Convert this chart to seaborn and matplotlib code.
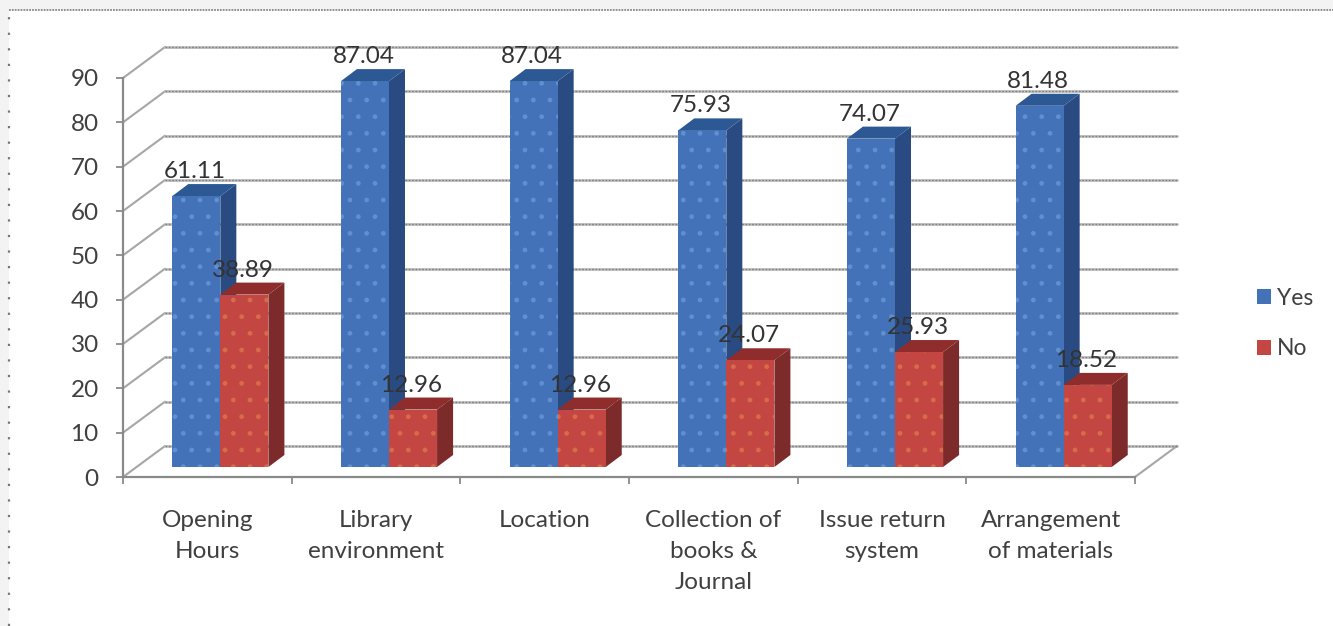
import matplotlib
matplotlib.use("Agg")
import matplotlib.pyplot as plt
from matplotlib.patches import Polygon, Rectangle
import pandas as pd
import seaborn as sns

categories = ["Opening\nHours", "Library\nenvironment", "Location",
              "Collection of\nbooks &\nJournal", "Issue return\nsystem",
              "Arrangement\nof materials"]
yes_values = [61.11, 87.04, 87.04, 75.93, 74.07, 81.48]
no_values = [38.89, 12.96, 12.96, 24.07, 25.93, 18.52]
series_names = ["Yes", "No"]
y_ticks = list(range(0, 100, 10))

W, H = 1333, 626
TEXT = "#404040"
FONT_SIZE = 17.5
FRONT = {"Yes": "#4472B8", "No": "#C44642"}
SIDE = {"Yes": "#2A4B82", "No": "#7D2A2A"}
TOP = {"Yes": "#2C5894", "No": "#8F2C2C"}
DOTS = {"Yes": "#628FCE", "No": "#D66C4C"}

sns.set_theme(style="white")
plt.rcParams["font.family"] = ["Lato", "DejaVu Sans"]

fig = plt.figure(figsize=(W / 100, H / 100), dpi=100, facecolor="#F3F3F3")
fig.add_artist(Rectangle((9 / W, 0), 1, 1 - 10 / H, transform=fig.transFigure,
                         facecolor="white", edgecolor="none", zorder=-5))
fig.add_artist(plt.Line2D([9 / W, 9 / W], [0, 1 - 10 / H], color="#777777", lw=1.6,
                          linestyle=(0, (1, 6))))
fig.add_artist(plt.Line2D([9 / W, 1], [1 - 10 / H, 1 - 10 / H], color="#888888", lw=1.3,
                          linestyle=(0, (1, 0.6))))

# Front plane of the plot box, placed in figure pixels
left, right, top, bottom = 123, 1135, 78, 477
ax = fig.add_axes([left / W, 1 - bottom / H, (right - left) / W, (bottom - top) / H])
ax.patch.set_alpha(0)

data = pd.DataFrame({
    "category": categories * 2,
    "series": ["Yes"] * 6 + ["No"] * 6,
    "value": yes_values + no_values,
})
sns.barplot(data=data, x="category", y="value", hue="series", hue_order=series_names,
            palette=FRONT, width=0.57, gap=0, saturation=1, ax=ax, legend=False)

ax.set_xlim(-0.5, 5.5)
ax.set_ylim(0, 90)
ax.set_xlabel("")
ax.set_ylabel("")

# Pixel lengths expressed in data units
px_x = (right - left) / 6
px_y = (bottom - top) / 90
to_x = lambda px: px / px_x
to_y = lambda px: px / px_y

# Oblique projection: walls sit behind the front plane, bars partway in
wall_dx, wall_dy = to_x(42), to_y(31)
bar_dx, bar_dy = to_x(13), to_y(10)
depth_dx, depth_dy = to_x(16), to_y(12)


def grid_path(y):
    xs = [-0.5, -0.5 + wall_dx, 5.5 + wall_dx]
    ys = [y, y + wall_dy, y + wall_dy]
    ax.plot(xs[:2], ys[:2], color="#A6A6A6", lw=1.5, clip_on=False, zorder=1)
    ax.plot(xs[1:], ys[1:], color="#BEBEBE", lw=2.0, clip_on=False, zorder=1)
    ax.plot(xs[1:], ys[1:], color="#808080", lw=1.0, clip_on=False, zorder=1.1,
            linestyle=(0, (1.2, 1.2)))


for value in y_ticks:
    grid_path(value)
ax.plot([5.5, 5.5 + wall_dx], [0, wall_dy], color="#A6A6A6", lw=1.5, clip_on=False, zorder=1)

# Bars with their side and top faces
for level, (name, container) in enumerate(zip(series_names, ax.containers)):
    z = 3 + level
    for bar in container:
        x0 = bar.get_x() + bar_dx
        x1 = x0 + bar.get_width()
        h = bar.get_height()
        y0 = bar_dy
        y1 = y0 + h
        bar.set_x(x0)
        bar.set_y(y0)
        bar.set(hatch=".", edgecolor=DOTS[name], linewidth=0, zorder=z + 0.2, clip_on=False)
        ax.add_patch(Polygon([(x1, y0), (x1 + depth_dx, y0 + depth_dy),
                              (x1 + depth_dx, y1 + depth_dy), (x1, y1)],
                             facecolor=SIDE[name], edgecolor="none", zorder=z, clip_on=False))
        ax.add_patch(Polygon([(x0, y1), (x1, y1), (x1 + depth_dx, y1 + depth_dy),
                              (x0 + depth_dx, y1 + depth_dy)],
                             facecolor=TOP[name], edgecolor="none", zorder=z + 0.1, clip_on=False))
        ax.annotate(f"{h:.2f}", ((x0 + x1) / 2 - 1.5 / px_x, y1), xytext=(0, 24.5 * 0.72),
                    textcoords="offset points", ha="center", va="center",
                    fontsize=FONT_SIZE, color="#333333", zorder=8, annotation_clip=False)

# Axes, ticks and category labels
for side in ("top", "right"):
    ax.spines[side].set_visible(False)
for side in ("left", "bottom"):
    ax.spines[side].set_color("#8A8A8A")
    ax.spines[side].set_linewidth(1.6)
    ax.spines[side].set_linestyle((0, (1.6, 1.0)))

ax.set_yticks(y_ticks)
ax.set_xticks(range(6), labels=categories)
ax.set_xticks([i - 0.5 for i in range(7)], minor=True)
ax.tick_params(axis="y", left=True, length=5, width=1.3, color="#8A8A8A", pad=12.5,
               labelsize=FONT_SIZE, labelcolor=TEXT)
ax.tick_params(axis="x", which="major", bottom=False, length=0, pad=23.5,
               labelsize=FONT_SIZE, labelcolor=TEXT)
ax.tick_params(axis="x", which="minor", bottom=True, length=5, width=1.3, color="#8A8A8A")
for label in ax.get_xticklabels():
    label.set_linespacing(1.6)

# Legend
handles = [Rectangle((0, 0), 1, 1, facecolor=FRONT[n], edgecolor="none") for n in series_names]
fig.legend(handles, series_names, loc="upper left",
           bbox_to_anchor=(1252 / W, 1 - 283 / H), bbox_transform=fig.transFigure,
           frameon=False, fontsize=FONT_SIZE - 1, labelcolor=TEXT,
           handlelength=0.62, handleheight=0.62, handletextpad=0.25, labelspacing=1.3,
           borderpad=0.2, borderaxespad=0)

fig.savefig("out.png", dpi=100, facecolor=fig.get_facecolor())
